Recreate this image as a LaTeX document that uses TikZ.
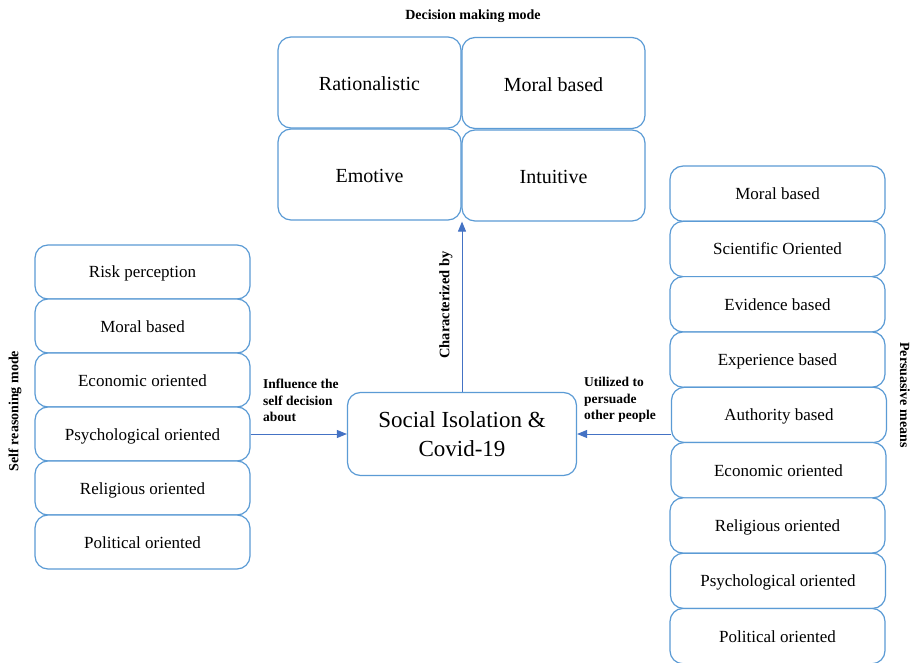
\documentclass[tikz,border=0pt]{standalone}
\usepackage{fontspec}
\setmainfont{Liberation Serif}
\usetikzlibrary{arrows.meta,calc}
\definecolor{boxblue}{RGB}{91,155,213}
\definecolor{arrblue}{RGB}{68,114,196}
\begin{document}
\begin{tikzpicture}[x=1pt,y=-1pt,
  bx/.style={draw=boxblue,line width=1.2pt,rounded corners=13pt,fill=white,inner sep=0pt},
  topbox/.style={bx,minimum width=183pt,minimum height=91pt,text height=19pt,text depth=2pt,font=\fontsize{20}{24}\selectfont},
  colbox/.style={bx,minimum width=215pt,minimum height=54pt,text height=14pt,text depth=2pt,font=\fontsize{17}{20}\selectfont},
  rbox/.style={bx,minimum width=215pt,minimum height=55.3pt,text height=14pt,text depth=2pt,font=\fontsize{17}{20}\selectfont},
  lbl/.style={font=\fontsize{13.5}{16.5}\selectfont\bfseries,inner sep=0pt},
  ttl/.style={font=\fontsize{14}{17}\selectfont\bfseries,inner sep=0pt},
  arr/.style={draw=arrblue,line width=1pt,-{Triangle[length=10pt,width=8pt]},arrblue}]
\clip (0,0) rectangle (919,663);
\fill[white] (0,0) rectangle (919,663);

% Decision making mode
\node[ttl] (dmt) at (473,16) {Decision making mode};
\node[topbox] (t1) at (369.5,82.5) {Rationalistic};
\node[topbox] (t2) at (553.5,83) {Moral based};
\node[topbox] (t3) at (369.5,174.5) {Emotive};
\node[topbox] (t4) at (553.5,175.5) {Intuitive};

% Self reasoning mode
\node[colbox] (l1) at (142.5,272) {Risk perception};
\node[colbox] (l2) at (142.5,326) {Moral based};
\node[colbox] (l3) at (142.5,380) {Economic oriented};
\node[colbox] (l4) at (142.5,434) {Psychological oriented};
\node[colbox] (l5) at (142.5,488) {Religious oriented};
\node[colbox] (l6) at (142.5,542) {Political oriented};
\node[ttl,rotate=90] (srm) at (15,411) {Self reasoning mode};

% Persuasive means
\node[rbox] (r1) at (777.5,193.7) {Moral based};
\node[rbox] (r2) at (777.5,249) {Scientific Oriented};
\node[rbox] (r3) at (777.5,304.3) {Evidence based};
\node[rbox] (r4) at (777.5,359.6) {Experience based};
\node[rbox] (r5) at (779,414.9) {Authority based};
\node[rbox] (r6) at (778.5,470.2) {Economic oriented};
\node[rbox] (r7) at (777.5,525.5) {Religious oriented};
\node[rbox] (r8) at (778,580.8) {Psychological oriented};
\node[rbox] (r9) at (777.5,636.1) {Political oriented};
\node[ttl,rotate=-90] (pm) at (905,395) {Persuasive means};

% Center
\node[bx,minimum width=229pt,minimum height=83pt,align=center,
  font=\fontsize{23}{29}\selectfont] (soc) at (462,434) {Social Isolation \&\\Covid-19};

% Connectors
\draw[arr] (l4.east) -- (l4.east -| soc.west);
\draw[arr] (soc.north) -- (soc.north |- t4.south);
\draw[arr] (r5.west |- soc.east) -- (soc.east);

% Connector labels
\node[lbl,anchor=north west,align=left] (infl) at (263,379) {Influence the\\self decision\\about};
\node[lbl,anchor=north west,align=left] (util) at (584,377) {Utilized to\\persuade\\other people};
\node[lbl,font=\fontsize{14.5}{17}\selectfont\bfseries,rotate=90] (char) at (446,305) {Characterized by};
\end{tikzpicture}
\end{document}
